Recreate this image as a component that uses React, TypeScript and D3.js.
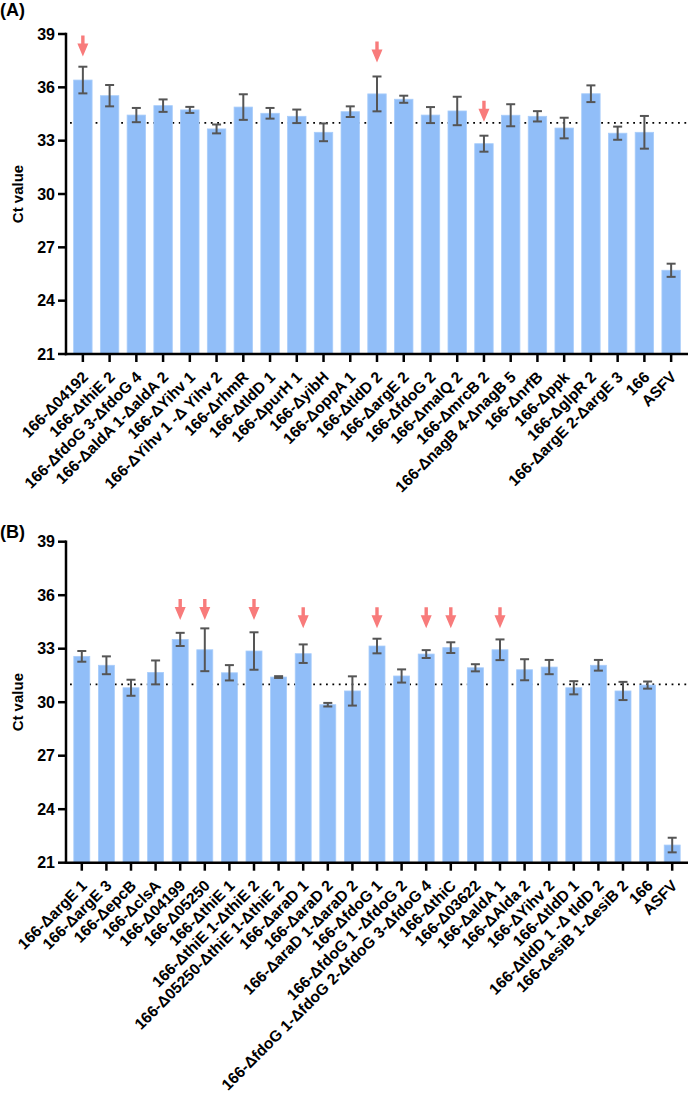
import * as d3 from 'd3';

// ---- panel A data ----
const labelsA = [
  '166-Δ04192', '166-ΔthiE 2', '166-ΔfdoG 3-ΔfdoG 4', '166-ΔaldA 1-ΔaldA 2',
  '166-ΔYihv 1', '166-ΔYihv 1 -Δ Yihv 2', '166-ΔrhmR', '166-ΔtldD 1',
  '166-ΔpurH 1', '166-ΔyibH', '166-ΔoppA 1', '166-ΔtldD 2', '166-ΔargE 2',
  '166-ΔfdoG 2', '166-ΔmalQ 2', '166-ΔmrcB 2', '166-ΔnagB 4-ΔnagB 5',
  '166-ΔnrfB', '166-Δppk', '166-ΔglpR 2', '166-ΔargE 2-ΔargE 3', '166', 'ASFV',
];
const meansA = [
  36.41, 35.53, 34.44, 34.97, 34.73, 33.66, 34.89, 34.54, 34.37, 33.47, 34.63,
  35.63, 35.33, 34.44, 34.67, 32.83, 34.43, 34.37, 33.71, 35.64, 33.42, 33.47, 25.71,
];
const errA = [
  0.75, 0.6, 0.4, 0.35, 0.17, 0.25, 0.72, 0.3, 0.38, 0.5, 0.3,
  0.98, 0.2, 0.45, 0.8, 0.45, 0.62, 0.29, 0.58, 0.47, 0.37, 0.92, 0.37,
];
const arrowsA = ['166-Δ04192', '166-ΔtldD 2', '166-ΔmrcB 2'];
const arrowTipsA = [37.73, 37.39, 34.07];
const refA = 34;

// ---- panel B data ----
const labelsB = [
  '166-ΔargE 1', '166-ΔargE 3', '166-ΔepcB', '166-ΔclsA', '166-Δ04199',
  '166-Δ05250', '166-ΔthiE 1', '166-ΔthiE 1-ΔthiE 2', '166-Δ05250-ΔthiE 1-ΔthiE 2',
  '166-ΔaraD 1', '166-ΔaraD 2', '166-ΔaraD 1-ΔaraD 2', '166-ΔfdoG 1',
  '166-ΔfdoG 1 -ΔfdoG 2', '166-ΔfdoG 1-ΔfdoG 2-ΔfdoG 3-ΔfdoG 4', '166-ΔthiC',
  '166-Δ03622', '166-ΔaldA 1', '166-ΔAlda 2', '166-ΔYihv 2', '166-ΔtldD 1',
  '166-ΔtldD 1 -Δ tldD 2', '166-ΔesiB 1-ΔesiB 2', '166', 'ASFV',
];
const meansB = [
  32.57, 32.07, 30.81, 31.67, 33.52, 32.94, 31.65, 32.87, 31.41, 32.72, 29.86,
  30.63, 33.15, 31.47, 32.7, 33.06, 31.93, 32.94, 31.82, 31.97, 30.81, 32.07,
  30.63, 30.96, 21.99,
];
const errB = [
  0.3, 0.5, 0.45, 0.67, 0.37, 1.2, 0.43, 1.05, 0.05, 0.52, 0.1,
  0.82, 0.41, 0.37, 0.22, 0.3, 0.2, 0.58, 0.59, 0.4, 0.37, 0.3,
  0.51, 0.2, 0.41,
];
const arrowsB = [
  '166-Δ04199', '166-Δ05250', '166-ΔthiE 1-ΔthiE 2', '166-ΔaraD 1',
  '166-ΔfdoG 1', '166-ΔfdoG 1-ΔfdoG 2-ΔfdoG 3-ΔfdoG 4', '166-ΔthiC', '166-ΔaldA 1',
];
const arrowTipsB = [34.61, 34.61, 34.61, 34.14, 34.14, 34.14, 34.14, 34.14];
const refB = 31;

const yTicks = [21, 24, 27, 30, 33, 36, 39];

const FONT = '"Liberation Sans", Arial, Helvetica, sans-serif';
const BAR = '#91bef8';
const ERR = '#555555';
const ARROW = '#f87b7b';

interface PanelProps {
  title: string;
  titleY: number;
  labels: string[];
  means: number[];
  errs: number[];
  arrows: string[];
  arrowTips: number[];
  refValue: number;
  top: number;
  bottom: number;
  inner: number;
}

function Panel(props: PanelProps) {
  const { title, titleY, labels, means, errs, arrows, arrowTips, refValue, top, bottom, inner } = props;
  const axisX = 66;
  const y = d3.scaleLinear().domain([21, 39]).range([bottom, top]);
  const x = d3
    .scaleBand<string>()
    .domain(labels)
    .range([69.5, 684.5])
    .paddingInner(inner)
    .paddingOuter(inner / 2);
  const bw = x.bandwidth();
  const cx = (l: string) => (x(l) as number) + bw / 2;

  return (
    <g>
      <text x={0} y={titleY} fontFamily={FONT} fontWeight="bold" fontSize={18}>
        {title}
      </text>

      {/* reference line behind bars */}
      <line
        x1={70}
        x2={688}
        y1={y(refValue)}
        y2={y(refValue)}
        stroke="#000"
        strokeWidth={1.8}
        strokeDasharray="1.8 4.6"
      />

      {labels.map((l, i) => (
        <rect
          key={l}
          x={x(l)}
          y={y(means[i])}
          width={bw}
          height={y(21) - y(means[i])}
          fill={BAR}
          stroke="#a9cdfa"
          strokeWidth={0.8}
        />
      ))}

      {labels.map((l, i) => {
        const c = cx(l);
        const hi = y(means[i] + errs[i]);
        const lo = y(means[i] - errs[i]);
        return (
          <g key={l} stroke={ERR} strokeWidth={2}>
            <line x1={c} x2={c} y1={hi} y2={lo} />
            <line x1={c - 4.5} x2={c + 4.5} y1={hi} y2={hi} />
            <line x1={c - 4.5} x2={c + 4.5} y1={lo} y2={lo} />
          </g>
        );
      })}

      {arrows.map((l, i) => {
        const c = cx(l);
        const tip = y(arrowTips[i]);
        return (
          <path
            key={l}
            d={`M${c - 1.7},${tip - 21} L${c + 1.7},${tip - 21} L${c + 1.7},${tip - 13} L${c + 5.5},${tip - 13} L${c},${tip} L${c - 5.5},${tip - 13} L${c - 1.7},${tip - 13} Z`}
            fill={ARROW}
          />
        );
      })}

      {/* y axis */}
      <line x1={axisX} x2={axisX} y1={top - 1.2} y2={bottom + 1.2} stroke="#000" strokeWidth={2.5} />
      {yTicks.map(t => (
        <g key={t}>
          <line x1={axisX - 8} x2={axisX} y1={y(t)} y2={y(t)} stroke="#000" strokeWidth={2.5} />
          <text
            x={55}
            y={y(t)}
            dy="0.36em"
            textAnchor="end"
            fontFamily={FONT}
            fontWeight="bold"
            fontSize={16}
          >
            {t}
          </text>
        </g>
      ))}
      <text
        transform={`translate(23, ${(top + bottom) / 2}) rotate(-90)`}
        textAnchor="middle"
        fontFamily={FONT}
        fontWeight="bold"
        fontSize={15}
      >
        Ct value
      </text>

      {/* x axis */}
      <line x1={axisX - 1.2} x2={688} y1={bottom} y2={bottom} stroke="#000" strokeWidth={2.5} />
      {labels.map(l => (
        <g key={l}>
          <line x1={cx(l)} x2={cx(l)} y1={bottom} y2={bottom + 8} stroke="#000" strokeWidth={2.5} />
          <text
            transform={`translate(${cx(l) + 6.2}, ${bottom + 24}) rotate(-45)`}
            textAnchor="end"
            fontFamily={FONT}
            fontWeight="bold"
            fontSize={15.6}
          >
            {l}
          </text>
        </g>
      ))}
    </g>
  );
}

export default function App() {
  return (
    <svg
      width={690}
      height={1093}
      style={{ position: 'absolute', left: 0, top: 0, background: '#fff' }}
    >
      <Panel
        title="(A)"
        titleY={16}
        labels={labelsA}
        means={meansA}
        errs={errA}
        arrows={arrowsA}
        arrowTips={arrowTipsA}
        refValue={refA}
        top={34}
        bottom={354}
        inner={0.31}
      />
      <Panel
        title="(B)"
        titleY={538}
        labels={labelsB}
        means={meansB}
        errs={errB}
        arrows={arrowsB}
        arrowTips={arrowTipsB}
        refValue={refB}
        top={541.7}
        bottom={862.7}
        inner={0.35}
      />
    </svg>
  );
}
